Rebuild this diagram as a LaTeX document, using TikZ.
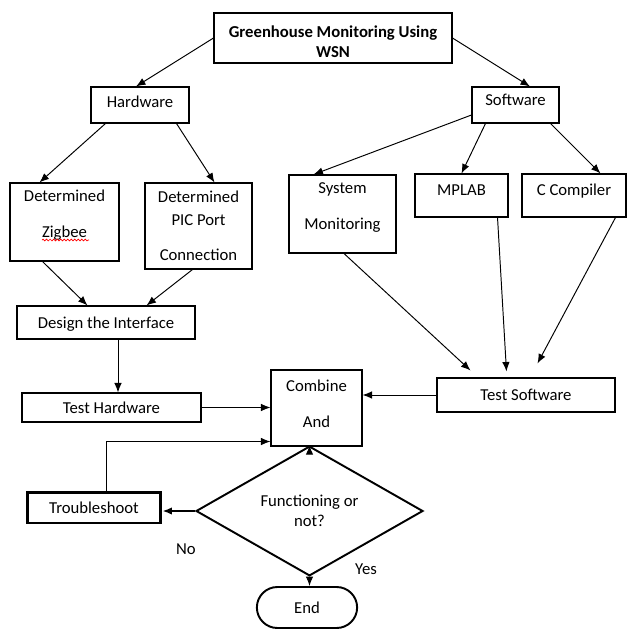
\documentclass[tikz,border=0pt]{standalone}
\usepackage{fontspec}
\setmainfont{Carlito}
\usetikzlibrary{arrows.meta,shapes.geometric,shapes.misc,decorations.pathmorphing}

\begin{document}
\begin{tikzpicture}[x=0.02cm,y=-0.02cm,>={Latex[length=1.9mm,width=1.5mm]},
  font=\fontsize{9.5}{11.4}\selectfont,
  box/.style={draw,line width=0.6pt,text height=7pt,text depth=0.4pt,inner sep=2pt},
  mbox/.style={draw,line width=0.6pt,align=center,inner sep=2pt},
  decision/.style={draw,diamond,line width=1.1pt,align=center,inner sep=0pt,
    minimum width=4.54cm,minimum height=1.72cm},
  terminal/.style={draw,rounded rectangle,line width=1.1pt,minimum width=2.24cm,
    minimum height=0.82cm,text height=7pt,text depth=0.4pt},
  link/.style={->,line width=0.55pt},
  lbl/.style={inner sep=0pt}]
  \def\fs{\fontsize{9.5}{11.4}\selectfont}
  \useasboundingbox (0,0) rectangle (627,629);

  % ================= top level =================
  \node[mbox,font=\fs\bfseries,minimum width=4.76cm,minimum height=1cm] (title) at (333,38)
    {\mbox{}\\[0pt]Greenhouse Monitoring Using\\WSN};
  \node[box,text depth=3.8pt,minimum width=1.96cm,minimum height=0.72cm] (hw) at (140,105) {Hardware};
  \node[box,text depth=6pt,minimum width=1.74cm,minimum height=0.72cm] (sw) at (515.5,105) {Software};

  % ================= hardware branch =================
  \node[mbox,minimum width=2.18cm,minimum height=1.56cm] (zig) at (64.5,222)
    {Determined\\[9.5pt]Zigbee\\[-2pt]\mbox{}};
  \draw[red,line width=0.4pt,decorate,decoration={snake,amplitude=0.5pt,segment length=2pt}]
    (42,240) -- (89,240);
  \node[mbox,minimum width=2.14cm,minimum height=1.72cm] (pic) at (198.5,226)
    {Determined\\[1.2pt]PIC Port\\[8.8pt]Connection};
  \node[box,minimum width=3.56cm,minimum height=0.66cm] (design) at (106,322.5) {Design the Interface};
  \node[box,minimum width=3.58cm,minimum height=0.58cm] (testhw) at (111.5,407.5) {Test Hardware};

  % ================= software branch =================
  \node[mbox,minimum width=2.14cm,minimum height=1.56cm] (sysmon) at (342.5,214)
    {System\\[9pt]Monitoring\\[-2.6pt]\mbox{}};
  \node[box,text depth=6.6pt,minimum width=1.86cm,minimum height=0.86cm] (mplab) at (461.5,195.5) {MPLAB};
  \node[box,text depth=6.6pt,minimum width=2.08cm,minimum height=0.86cm] (ccomp) at (574,195.5) {C Compiler};
  \node[box,minimum width=3.56cm,minimum height=0.68cm] (testsw) at (526,395) {Test Software};

  % ================= integration =================
  \node[mbox,minimum width=1.82cm,minimum height=1.52cm] (combine) at (316.5,408)
    {Combine\\[9pt]And\\[-6.8pt]\mbox{}};
  \node[decision] (decide) at (309.5,511) {Functioning or\\not?};
  \node[box,line width=1.7pt,minimum width=2.68cm,minimum height=0.62cm] (trouble) at (94,507.5) {Troubleshoot};
  \node[terminal] (finish) at (307,607.5) {End};
  \node[lbl] (no) at (186,549) {No};
  \node[lbl] (yes) at (366,569) {Yes};

  % ================= connectors =================
  \draw[link] (title.west) -- ([shift={(-4,0)}]hw.north);
  \draw[link] (title.east) -- ([shift={(14.5,0)}]sw.north);
  \draw[link] ([shift={(15,0)}]hw.south west) -- ([shift={(30,0)}]zig.north west);
  \draw[link] ([shift={(-13,0)}]hw.south east) -- ([shift={(-38,0)}]pic.north east);
  \draw[link] ([shift={(0,10)}]sw.west) -- ([shift={(25,0)}]sysmon.north west);
  \draw[link] ([shift={(14,0)}]sw.south west) -- (mplab.north);
  \draw[link] ([shift={(-9,0)}]sw.south east) -- ([shift={(-26,0)}]ccomp.north east);

  \draw[link] ([shift={(33,0)}]zig.south west) -- ([shift={(71,0)}]design.north west);
  \draw[link] ([shift={(-60,0)}]pic.south east) -- ([shift={(-49,0)}]design.north east);
  \draw[link] ([shift={(12,0)}]design.south) -- ([shift={(12,0)}]design.south |- testhw.north);

  \draw[link] ([shift={(1.5,0)}]sysmon.south) -- ([shift={(34,-7)}]testsw.north west);
  \draw[link] ([shift={(-11,0)}]mplab.south east) -- ([shift={(70,-6)}]testsw.north west);
  \draw[link] ([shift={(-11,0)}]ccomp.south east) -- ([shift={(101,-14)}]testsw.north west);

  \draw[link] (testhw.east) -- (testhw.east -| combine.west);
  \draw[link] (testsw.west) -- (testsw.west -| combine.east);
  \draw[link] (decide.north |- combine.south) -- (decide.north);
  \draw[link,line width=1pt] (decide.west) -- (decide.west -| trouble.east);
  \draw[link] ([shift={(12,0)}]trouble.north) |- ([shift={(0,-5)}]combine.south west);
  \draw[link] (decide.south) -- (decide.south |- finish.north);
\end{tikzpicture}
\end{document}
